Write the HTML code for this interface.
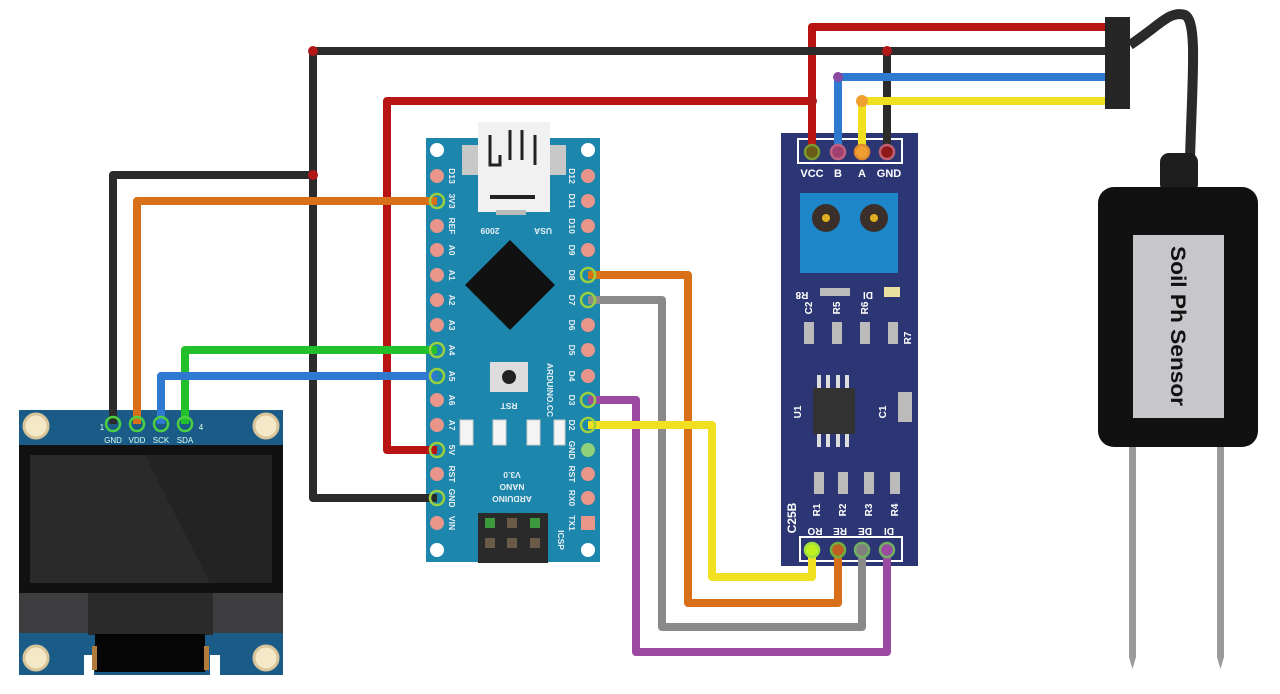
<!DOCTYPE html>
<html><head><meta charset="utf-8"><style>
html,body{margin:0;padding:0;background:#fff;}
svg{display:block;}
text{font-family:"Liberation Sans",sans-serif;}
</style></head><body>
<svg width="1280" height="694" viewBox="0 0 1280 694" xmlns="http://www.w3.org/2000/svg">
<rect width="1280" height="694" fill="#fff"/>

<!-- OLED -->
<rect x="19" y="410" width="264" height="265" fill="#1b5b88"/>
<rect x="19" y="445" width="264" height="148" fill="#111"/>
<rect x="30" y="455" width="242" height="128" fill="#2a2a2a"/>
<polygon points="145,455 272,455 272,583 210,583" fill="#232323"/>
<rect x="19" y="593" width="264" height="40" fill="#3d3d40"/>
<rect x="88" y="593" width="125" height="42" fill="#2a2a2a"/>
<rect x="84" y="655" width="10" height="20" fill="#fff"/>
<rect x="210" y="655" width="10" height="20" fill="#fff"/>
<rect x="95" y="634" width="110" height="38" fill="#050505"/>
<rect x="92" y="646" width="5" height="24" fill="#b07a3a"/>
<rect x="204" y="646" width="5" height="24" fill="#b07a3a"/>
<g fill="#f4e8c8" stroke="#d8c59a" stroke-width="3">
<circle cx="36" cy="426" r="12"/><circle cx="266" cy="426" r="12"/>
<circle cx="36" cy="658" r="12"/><circle cx="266" cy="658" r="12"/>
</g>
<g font-size="8" fill="#dfe" text-anchor="middle">
<text x="113" y="443">GND</text><text x="137" y="443">VDD</text><text x="161" y="443">SCK</text><text x="185" y="443">SDA</text>
<text x="102" y="430">1</text><text x="201" y="430">4</text></g>

<!-- Arduino -->
<rect x="426" y="138" width="174" height="424" fill="#1c86ad"/>
<rect x="478" y="122" width="72" height="90" fill="#f1f1f1"/>
<rect x="462" y="145" width="16" height="30" fill="#c8c8c8"/>
<rect x="550" y="145" width="16" height="30" fill="#c8c8c8"/>
<path d="M490 135 v30 h10 v-10 M510 130 v30 M522 130 v30 M535 135 v30" stroke="#222" stroke-width="3" fill="none"/>
<rect x="490" y="195" width="45" height="4" fill="#222"/>
<rect x="496" y="210" width="30" height="5" fill="#bbb"/>
<polygon points="510,240 555,285 510,330 465,285" fill="#111"/>
<rect x="490" y="362" width="38" height="30" fill="#ddd"/>
<circle cx="509" cy="377" r="7" fill="#222"/>
<g fill="#f5f5f5" stroke="#ccc"><rect x="460" y="420" width="13" height="25"/><rect x="493" y="420" width="13" height="25"/><rect x="527" y="420" width="13" height="25"/><rect x="554" y="420" width="11" height="25"/></g>
<rect x="478" y="513" width="70" height="50" fill="#2a2a2a"/>
<g fill="#6a5a48"><rect x="485" y="538" width="10" height="10"/><rect x="507" y="538" width="10" height="10"/><rect x="530" y="538" width="10" height="10"/><rect x="507" y="518" width="10" height="10"/></g>
<g fill="#3c9a3c"><rect x="485" y="518" width="10" height="10"/><rect x="530" y="518" width="10" height="10"/></g>
<g fill="#fff"><circle cx="437" cy="150" r="7"/><circle cx="588" cy="150" r="7"/><circle cx="437" cy="550" r="7"/><circle cx="588" cy="550" r="7"/></g>
<g fill="#e9958a">
<circle cx="437" cy="176" r="7"/><circle cx="437" cy="226" r="7"/><circle cx="437" cy="250" r="7"/><circle cx="437" cy="275" r="7"/><circle cx="437" cy="300" r="7"/><circle cx="437" cy="325" r="7"/><circle cx="437" cy="400" r="7"/><circle cx="437" cy="425" r="7"/><circle cx="437" cy="474" r="7"/><circle cx="437" cy="523" r="7"/>
<circle cx="588" cy="176" r="7"/><circle cx="588" cy="201" r="7"/><circle cx="588" cy="226" r="7"/><circle cx="588" cy="250" r="7"/><circle cx="588" cy="325" r="7"/><circle cx="588" cy="350" r="7"/><circle cx="588" cy="376" r="7"/><circle cx="588" cy="474" r="7"/><circle cx="588" cy="498" r="7"/>
<rect x="581" y="516" width="14" height="14"/></g>
<circle cx="588" cy="450" r="7" fill="#8fd07a"/>
<g font-size="8.5" fill="#e8f0f4" font-weight="bold">
<g transform="translate(452,0)">
<text transform="translate(0,176) rotate(90)" text-anchor="middle" dy="3">D13</text>
<text transform="translate(0,201) rotate(90)" text-anchor="middle" dy="3">3V3</text>
<text transform="translate(0,226) rotate(90)" text-anchor="middle" dy="3">REF</text>
<text transform="translate(0,250) rotate(90)" text-anchor="middle" dy="3">A0</text>
<text transform="translate(0,275) rotate(90)" text-anchor="middle" dy="3">A1</text>
<text transform="translate(0,300) rotate(90)" text-anchor="middle" dy="3">A2</text>
<text transform="translate(0,325) rotate(90)" text-anchor="middle" dy="3">A3</text>
<text transform="translate(0,350) rotate(90)" text-anchor="middle" dy="3">A4</text>
<text transform="translate(0,376) rotate(90)" text-anchor="middle" dy="3">A5</text>
<text transform="translate(0,400) rotate(90)" text-anchor="middle" dy="3">A6</text>
<text transform="translate(0,425) rotate(90)" text-anchor="middle" dy="3">A7</text>
<text transform="translate(0,450) rotate(90)" text-anchor="middle" dy="3">5V</text>
<text transform="translate(0,474) rotate(90)" text-anchor="middle" dy="3">RST</text>
<text transform="translate(0,498) rotate(90)" text-anchor="middle" dy="3">GND</text>
<text transform="translate(0,523) rotate(90)" text-anchor="middle" dy="3">VIN</text></g>
<g transform="translate(572,0)">
<text transform="translate(0,176) rotate(90)" text-anchor="middle" dy="3">D12</text>
<text transform="translate(0,201) rotate(90)" text-anchor="middle" dy="3">D11</text>
<text transform="translate(0,226) rotate(90)" text-anchor="middle" dy="3">D10</text>
<text transform="translate(0,250) rotate(90)" text-anchor="middle" dy="3">D9</text>
<text transform="translate(0,275) rotate(90)" text-anchor="middle" dy="3">D8</text>
<text transform="translate(0,300) rotate(90)" text-anchor="middle" dy="3">D7</text>
<text transform="translate(0,325) rotate(90)" text-anchor="middle" dy="3">D6</text>
<text transform="translate(0,350) rotate(90)" text-anchor="middle" dy="3">D5</text>
<text transform="translate(0,376) rotate(90)" text-anchor="middle" dy="3">D4</text>
<text transform="translate(0,400) rotate(90)" text-anchor="middle" dy="3">D3</text>
<text transform="translate(0,425) rotate(90)" text-anchor="middle" dy="3">D2</text>
<text transform="translate(0,450) rotate(90)" text-anchor="middle" dy="3">GND</text>
<text transform="translate(0,474) rotate(90)" text-anchor="middle" dy="3">RST</text>
<text transform="translate(0,498) rotate(90)" text-anchor="middle" dy="3">RX0</text>
<text transform="translate(0,523) rotate(90)" text-anchor="middle" dy="3">TX1</text></g>
<text transform="translate(547,390) rotate(90)" text-anchor="middle">ARDUINO.CC</text>
<text transform="translate(490,228) rotate(180)" text-anchor="middle">2009</text>
<text transform="translate(543,228) rotate(180)" text-anchor="middle">USA</text>
<text transform="translate(509,403) rotate(180)" text-anchor="middle">RST</text>
<text transform="translate(512,472) rotate(180)" text-anchor="middle">V3.0</text>
<text transform="translate(512,484) rotate(180)" text-anchor="middle">NANO</text>
<text transform="translate(512,496) rotate(180)" text-anchor="middle">ARDUINO</text>
<text transform="translate(558,540) rotate(90)" text-anchor="middle">ICSP</text>
</g>

<!-- RS485 module -->
<rect x="781" y="133" width="137" height="433" fill="#2d3674"/>
<rect x="798" y="139" width="104" height="24" fill="none" stroke="#fff" stroke-width="2"/>
<g font-size="11" font-weight="bold" fill="#fff" text-anchor="middle">
<text x="812" y="177">VCC</text><text x="838" y="177">B</text><text x="862" y="177">A</text><text x="889" y="177">GND</text></g>
<rect x="800" y="193" width="98" height="80" fill="#1d87c9"/>
<circle cx="826" cy="218" r="14" fill="#3b2f2a"/><circle cx="874" cy="218" r="14" fill="#3b2f2a"/>
<circle cx="826" cy="218" r="4" fill="#e0b020"/><circle cx="874" cy="218" r="4" fill="#e0b020"/>
<rect x="820" y="288" width="30" height="8" fill="#bbb"/><rect x="884" y="287" width="16" height="10" fill="#e8e0a0"/>
<g fill="#bbb"><rect x="804" y="322" width="10" height="22"/><rect x="832" y="322" width="10" height="22"/><rect x="860" y="322" width="10" height="22"/><rect x="888" y="322" width="10" height="22"/>
<rect x="814" y="472" width="10" height="22"/><rect x="838" y="472" width="10" height="22"/><rect x="864" y="472" width="10" height="22"/><rect x="890" y="472" width="10" height="22"/>
<rect x="898" y="392" width="14" height="30"/></g>
<g fill="#ddd"><rect x="817" y="375" width="4" height="14"/><rect x="826" y="375" width="4" height="14"/><rect x="836" y="375" width="4" height="14"/><rect x="845" y="375" width="4" height="14"/>
<rect x="817" y="433" width="4" height="14"/><rect x="826" y="433" width="4" height="14"/><rect x="836" y="433" width="4" height="14"/><rect x="845" y="433" width="4" height="14"/></g>
<rect x="813" y="388" width="42" height="46" fill="#333"/>
<g font-size="10" font-weight="bold" fill="#fff">
<text transform="translate(802,292) rotate(180)" text-anchor="middle">R8</text>
<text transform="translate(868,292) rotate(180)" text-anchor="middle">DI</text>
<text transform="translate(808,308) rotate(-90)" text-anchor="middle" dy="4">C2</text>
<text transform="translate(836,308) rotate(-90)" text-anchor="middle" dy="4">R5</text>
<text transform="translate(864,308) rotate(-90)" text-anchor="middle" dy="4">R6</text>
<text transform="translate(907,338) rotate(-90)" text-anchor="middle" dy="4">R7</text>
<text transform="translate(797,412) rotate(-90)" text-anchor="middle" dy="4">U1</text>
<text transform="translate(882,412) rotate(-90)" text-anchor="middle" dy="4">C1</text>
<text transform="translate(816,510) rotate(-90)" text-anchor="middle" dy="4">R1</text>
<text transform="translate(842,510) rotate(-90)" text-anchor="middle" dy="4">R2</text>
<text transform="translate(868,510) rotate(-90)" text-anchor="middle" dy="4">R3</text>
<text transform="translate(894,510) rotate(-90)" text-anchor="middle" dy="4">R4</text>
<text transform="translate(792,518) rotate(-90)" text-anchor="middle" dy="4" font-size="12">C25B</text>
<text transform="translate(815,528) rotate(180)" text-anchor="middle">RO</text>
<text transform="translate(840,528) rotate(180)" text-anchor="middle">RE</text>
<text transform="translate(865,528) rotate(180)" text-anchor="middle">DE</text>
<text transform="translate(889,528) rotate(180)" text-anchor="middle">DI</text></g>
<rect x="800" y="537" width="102" height="24" fill="none" stroke="#fff" stroke-width="2"/>

<!-- Sensor -->
<path d="M1130 45 C1160 25 1170 10 1185 15 C1198 22 1192 80 1190 160" stroke="#2a2a2a" stroke-width="10" fill="none"/>
<rect x="1105" y="17" width="25" height="92" fill="#262626"/>
<rect x="1160" y="153" width="38" height="40" rx="9" fill="#1e1e1e"/>
<rect x="1098" y="187" width="160" height="260" rx="16" fill="#111"/>
<rect x="1133" y="235" width="91" height="183" fill="#c6c6cb"/>
<text transform="translate(1178,326) rotate(90)" text-anchor="middle" dy="7" font-size="21" font-weight="bold" fill="#111" textLength="160" lengthAdjust="spacingAndGlyphs">Soil Ph Sensor</text>
<path d="M1129 447 h7 v210 l-3.5 12 l-3.5 -12z" fill="#9a9a9a"/>
<path d="M1217 447 h7 v210 l-3.5 12 l-3.5 -12z" fill="#9a9a9a"/>

<!-- Wires -->
<g fill="none" stroke-linejoin="round" stroke-width="8">
<path d="M1105 27 H812 V152" stroke="#b81414"/>
<path d="M437 450 H387 V101 H812" stroke="#b81414"/>
<path d="M1105 51 H313 V498 H437" stroke="#2b2b2b"/>
<path d="M887 51 V152" stroke="#2b2b2b"/>
<path d="M313 175 H113 V424" stroke="#2b2b2b"/>
<path d="M1105 77 H838 V152" stroke="#2f7ad0"/>
<path d="M1105 101 H862 V152" stroke="#f0e020"/>
<path d="M437 201 H137 V424" stroke="#d8701a"/>
<path d="M437 350 H185 V424" stroke="#22c02a"/>
<path d="M437 376 H161 V424" stroke="#2f7ad0"/>
<path d="M588 275 H688 V603 H838 V550" stroke="#d8701a"/>
<path d="M588 300 H662 V627 H862 V550" stroke="#8a8a8a"/>
<path d="M588 400 H636 V652 H887 V550" stroke="#9a4aa0"/>
<path d="M588 425 H712 V577 H812 V550" stroke="#f0e020"/>
</g>
<g fill="#b01818"><circle cx="313" cy="51" r="5"/><circle cx="313" cy="175" r="5"/><circle cx="887" cy="51" r="5"/><circle cx="812" cy="101" r="5"/></g>
<circle cx="838" cy="77" r="5" fill="#8a4aa0"/><circle cx="862" cy="101" r="6" fill="#f0a030"/>
<!-- pin caps -->
<g stroke-width="2.5" fill="none">
<circle cx="812" cy="152" r="7" stroke="#7a9a30" fill="#6a5a18"/><circle cx="838" cy="152" r="7" stroke="#c06080" fill="#a04070"/>
<circle cx="862" cy="152" r="7" stroke="#e08a30" fill="#f0a030"/><circle cx="887" cy="152" r="7" stroke="#c06070" fill="#901818"/>
<circle cx="812" cy="550" r="7" stroke="#a0e040" fill="#c0f020"/><circle cx="838" cy="550" r="7" stroke="#70b040" fill="#c06020"/>
<circle cx="862" cy="550" r="7" stroke="#70b060" fill="#808080"/><circle cx="887" cy="550" r="7" stroke="#70b060" fill="#9a4aa0"/>
<circle cx="437" cy="201" r="7" stroke="#9ad040"/><circle cx="437" cy="350" r="7" stroke="#9ad040"/><circle cx="437" cy="376" r="7" stroke="#9ad040"/>
<circle cx="437" cy="450" r="7" stroke="#9ad040"/><circle cx="437" cy="498" r="7" stroke="#9ad040"/>
<circle cx="588" cy="275" r="7" stroke="#9ad040"/><circle cx="588" cy="300" r="7" stroke="#9ad040"/><circle cx="588" cy="400" r="7" stroke="#9ad040"/><circle cx="588" cy="425" r="7" stroke="#9ad040"/>
<circle cx="113" cy="424" r="7" stroke="#4ad040"/><circle cx="137" cy="424" r="7" stroke="#4ad040"/><circle cx="161" cy="424" r="7" stroke="#4ad040"/><circle cx="185" cy="424" r="7" stroke="#4ad040"/>
</g>
</svg>
</body></html>
